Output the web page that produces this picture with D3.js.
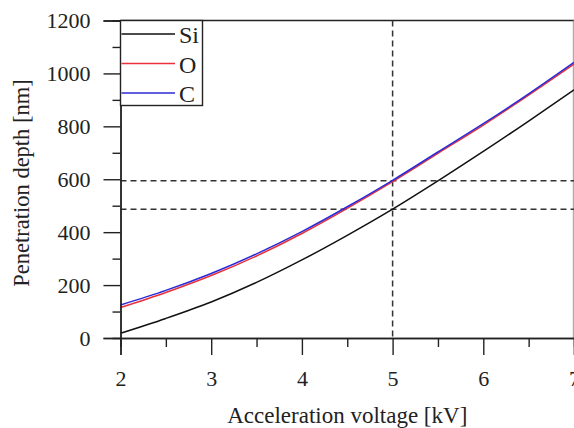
<!DOCTYPE html>
<html><head><meta charset="utf-8">
<script src="https://cdn.jsdelivr.net/npm/d3@7"></script>
<style>
html,body{margin:0;padding:0;background:#fff;}
</style></head>
<body>
<svg id="c" width="574" height="428"></svg>
<script>
const voltage = [2, 2.5, 3, 3.5, 4, 4.5, 5, 5.5, 6, 6.5, 7];
const depthSi = [18, 74, 136, 210, 295, 388, 487, 594, 705, 820, 938];
const depthO  = [115, 172, 236, 310, 395, 490, 591, 698, 805, 918, 1035];
const depthC  = [125, 180, 244, 318, 402, 496, 596, 703, 810, 923, 1042];
const seriesNames = ["Si", "O", "C"];
const xTicks = [2, 3, 4, 5, 6, 7];
const yTicks = [0, 200, 400, 600, 800, 1000, 1200];
const refVoltage = 5;
const refDepths = [594, 487];

const FONT = "Liberation Serif, Tinos, Times New Roman, DejaVu Serif, serif";
const svg = d3.select("#c").attr("font-family", FONT);
const L = 120.5, R = 574, T = 20.5, B = 338;
const x = d3.scaleLinear().domain([2, 7]).range([L, R]);
const y = d3.scaleLinear().domain([0, 1200]).range([B, T]);
const ink = "#222";

// frame top/right
svg.append("line").attr("x1", L).attr("x2", R).attr("y1", T).attr("y2", T).attr("stroke", ink).attr("stroke-width", 1.4);
svg.append("line").attr("x1", R-0.7).attr("x2", R-0.7).attr("y1", T).attr("y2", B).attr("stroke", "#999").attr("stroke-width", 1);

// reference dashed lines
const dash = "6,4";
refDepths.forEach(d => {
  svg.append("line").attr("x1", L).attr("x2", R).attr("y1", y(d)).attr("y2", y(d))
    .attr("stroke", "#333").attr("stroke-width", 1.5).attr("stroke-dasharray", dash);
});
svg.append("line").attr("x1", x(refVoltage)).attr("x2", x(refVoltage)).attr("y1", T).attr("y2", B)
  .attr("stroke", "#333").attr("stroke-width", 1.5).attr("stroke-dasharray", dash);

// curves
const line = d3.line().x((d, i) => x(voltage[i])).y(d => y(d)).curve(d3.curveMonotoneX);
const cols = {Si: "#111", O: "#e8313c", C: "#2a2ad6"};
const data = {Si: depthSi, O: depthO, C: depthC};
["Si", "O", "C"].forEach(k => {
  svg.append("path").attr("d", line(data[k])).attr("fill", "none")
    .attr("stroke", cols[k]).attr("stroke-width", 1.5);
});

// axes
const minorY = d3.range(100, 1200, 200);
const minorX = [2.5, 3.5, 4.5, 5.5, 6.5];
const gy = svg.append("g").attr("transform", `translate(${L},0)`)
  .call(d3.axisLeft(y).tickValues(yTicks).tickSize(17).tickPadding(13).tickFormat(d3.format("d")));
svg.append("g").attr("transform", `translate(${L},0)`)
  .call(d3.axisLeft(y).tickValues(minorY).tickSize(8).tickFormat(""));
const gx = svg.append("g").attr("transform", `translate(0,${B})`)
  .call(d3.axisBottom(x).tickValues(xTicks).tickSize(17).tickPadding(15).tickFormat(d3.format("d")));
svg.append("g").attr("transform", `translate(0,${B})`)
  .call(d3.axisBottom(x).tickValues(minorX).tickSize(9).tickFormat(""));
svg.selectAll("g").attr("font-family", FONT).attr("font-size", 22);
svg.selectAll(".domain").attr("stroke", ink).attr("stroke-width", 1.4);
svg.selectAll(".tick line").attr("stroke", ink).attr("stroke-width", 1.4);
svg.selectAll(".tick text").attr("fill", ink).attr("font-size", 22).attr("font-family", FONT);
gy.selectAll(".tick text").attr("dy", "0.34em");

// titles
svg.append("text").attr("x", (L + R) / 2).attr("y", 423).attr("text-anchor", "middle")
  .attr("font-family", FONT).attr("fill", ink).attr("font-size", 23).text("Acceleration voltage [kV]");
svg.append("text").attr("transform", "translate(29,183) rotate(-90)").attr("text-anchor", "middle")
  .attr("font-family", FONT).attr("fill", ink).attr("font-size", 22.5).text("Penetration depth [nm]");

// legend
const lg = svg.append("g");
lg.append("rect").attr("x", L).attr("y", T).attr("width", 82).attr("height", 85)
  .attr("fill", "#fff").attr("stroke", ink).attr("stroke-width", 1.4);
const ly = [34, 63.5, 93];
seriesNames.forEach((k, i) => {
  lg.append("line").attr("x1", L + 1).attr("x2", 175).attr("y1", ly[i]).attr("y2", ly[i])
    .attr("stroke", cols[k]).attr("stroke-width", 1.5);
  lg.append("text").attr("x", 179).attr("y", ly[i] + 9).attr("fill", ink)
    .attr("font-family", FONT).attr("font-size", 24).text(k);
});
</script>
</body></html>
